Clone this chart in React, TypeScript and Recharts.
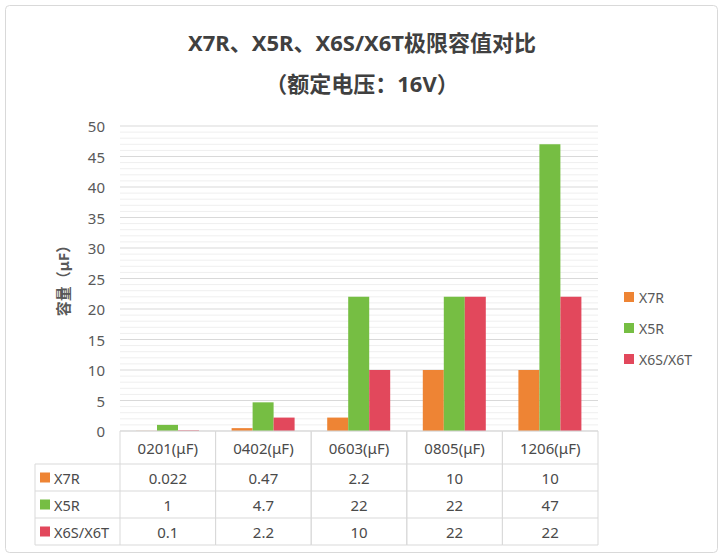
import React from 'react';
import { BarChart, Bar, XAxis, YAxis, CartesianGrid } from 'recharts';

const categories = ['0201(μF)', '0402(μF)', '0603(μF)', '0805(μF)', '1206(μF)'];
const seriesNames = ['X7R', 'X5R', 'X6S/X6T'];
const x7r = [0.022, 0.47, 2.2, 10, 10];
const x5r = [1, 4.7, 22, 22, 47];
const x6s = [0.1, 2.2, 10, 22, 22];
const gridValues = [
  0, 1, 2, 3, 4, 5, 6, 7, 8, 9, 10, 11, 12, 13, 14, 15, 16, 17, 18, 19, 20, 21, 22, 23, 24, 25,
  26, 27, 28, 29, 30, 31, 32, 33, 34, 35, 36, 37, 38, 39, 40, 41, 42, 43, 44, 45, 46, 47, 48, 49, 50,
];

const seriesValues = [x7r, x5r, x6s];
const colors = ['#EE8434', '#76BE43', '#E2485C'];

const data = categories.map((c, i) => ({ name: c, x7r: x7r[i], x5r: x5r[i], x6s: x6s[i] }));

const FONT = '"Noto Sans", "Noto Sans CJK SC", sans-serif';
const BORDER = '#d9d9d9';
const TEXT = '#4a4a4a';

const W = 724;
const H = 559;
const PLOT_LEFT = 120;
const PLOT_RIGHT = 598;
const PLOT_TOP = 126;
const PLOT_BOTTOM = 431;
const COL_W = (PLOT_RIGHT - PLOT_LEFT) / categories.length;
const HEADER_H = 33;
const ROW_H = 27;

const TableColumn = (props: any) => {
  const { x, payload, index } = props;
  const y = PLOT_BOTTOM;
  const i = payload && payload.index !== undefined ? payload.index : index;
  const left = x - COL_W / 2;
  const right = x + COL_W / 2;
  const bottom = y + HEADER_H + ROW_H * 3;
  return (
    <g>
      <line x1={left} y1={y} x2={right} y2={y} stroke={BORDER} />
      <line x1={left} y1={y} x2={left} y2={bottom} stroke={BORDER} />
      <line x1={right} y1={y} x2={right} y2={bottom} stroke={BORDER} />
      {[0, 1, 2, 3].map((r) => (
        <line
          key={r}
          x1={left}
          x2={right}
          y1={y + HEADER_H + ROW_H * r}
          y2={y + HEADER_H + ROW_H * r}
          stroke={BORDER}
        />
      ))}
      <text x={x} y={y + HEADER_H / 2 + 0.5} textAnchor="middle" dominantBaseline="central" fill={TEXT} fontSize={15} fontFamily={FONT}>
        {payload.value}
      </text>
      {seriesValues.map((vals, r) => (
        <text
          key={r}
          x={x}
          y={y + HEADER_H + ROW_H * r + ROW_H / 2}
          textAnchor="middle"
          dominantBaseline="central"
          fill={TEXT}
          fontSize={15}
          fontFamily={FONT}
        >
          {String(vals[i])}
        </text>
      ))}
    </g>
  );
};

const GridLine = (props: any) => {
  const { x1, x2, y1, y2, index } = props;
  const major = index % 5 === 0;
  return <line x1={x1} x2={x2} y1={y1} y2={y2} stroke={major ? '#d9d9d9' : '#efefef'} strokeWidth={1} />;
};

const YTick = (props: any) => {
  const { x, y, payload } = props;
  if (payload.value % 5 !== 0) return null;
  return (
    <text x={x} y={y} textAnchor="end" dominantBaseline="central" fill="#595959" fontSize={15} fontFamily={FONT}>
      {payload.value}
    </text>
  );
};

export default function App() {
  return (
    <div style={{ position: 'absolute', left: 0, top: 0, width: W, height: H, background: '#fff', fontFamily: FONT }}>
      <svg width={W} height={H} style={{ position: 'absolute', left: 0, top: 0 }}>
        <rect x={5.5} y={5.5} width={712} height={547} rx={4} fill="#fff" stroke={BORDER} />
        <text x={362} y={42} textAnchor="middle" dominantBaseline="central" fontSize={22} fontWeight="bold" fill="#404040" fontFamily={FONT}>
          X7R、X5R、X6S/X6T极限容值对比
        </text>
        <text x={362} y={83} textAnchor="middle" dominantBaseline="central" fontSize={22} fontWeight="bold" fill="#404040" fontFamily={FONT}>
          （额定电压：16V）
        </text>
        <text
          x={63}
          y={277}
          transform="rotate(-90 63 277)"
          textAnchor="middle"
          dominantBaseline="central"
          fontSize={15}
          fontWeight="bold"
          fill="#595959"
          fontFamily={FONT}
        >
          容量（μF）
        </text>
        {seriesNames.map((n, r) => {
          const top = PLOT_BOTTOM + HEADER_H + ROW_H * r;
          return (
            <g key={n}>
              <line x1={35} x2={PLOT_LEFT} y1={top} y2={top} stroke={BORDER} />
              <rect x={40} y={top + ROW_H / 2 - 5} width={10} height={10} fill={colors[r]} />
              <text x={54} y={top + ROW_H / 2} dominantBaseline="central" fontSize={14.5} fill={TEXT} fontFamily={FONT}>
                {n}
              </text>
            </g>
          );
        })}
        <line x1={35} x2={PLOT_LEFT} y1={PLOT_BOTTOM + HEADER_H + ROW_H * 3} y2={PLOT_BOTTOM + HEADER_H + ROW_H * 3} stroke={BORDER} />
        <line x1={35} x2={35} y1={PLOT_BOTTOM + HEADER_H} y2={PLOT_BOTTOM + HEADER_H + ROW_H * 3} stroke={BORDER} />
        {seriesNames.map((n, r) => (
          <g key={n}>
            <rect x={624} y={292 + r * 31} width={10} height={10} fill={colors[r]} />
            <text x={639} y={297 + r * 31} dominantBaseline="central" fontSize={14} fill="#595959" fontFamily={FONT}>
              {n}
            </text>
          </g>
        ))}
      </svg>
      <div style={{ position: 'absolute', left: 0, top: 0 }}>
        <BarChart
          width={W}
          height={H}
          data={data}
          margin={{ top: PLOT_TOP, right: W - PLOT_RIGHT, bottom: 0, left: 0 }}
          barGap={0}
          barSize={21}
        >
          <CartesianGrid vertical={false} horizontal={<GridLine />} />
          <YAxis
            width={PLOT_LEFT}
            domain={[0, 50]}
            ticks={gridValues}
            interval={0}
            axisLine={false}
            tickLine={false}
            tickSize={0}
            tickMargin={15}
            tick={<YTick />}
          />
          <XAxis
            dataKey="name"
            height={H - PLOT_BOTTOM}
            axisLine={false}
            tickLine={false}
            tickSize={0}
            interval={0}
            tick={<TableColumn />}
          />
          <Bar dataKey="x7r" name="X7R" fill={colors[0]} isAnimationActive={false} />
          <Bar dataKey="x5r" name="X5R" fill={colors[1]} isAnimationActive={false} />
          <Bar dataKey="x6s" name="X6S/X6T" fill={colors[2]} isAnimationActive={false} />
        </BarChart>
      </div>
    </div>
  );
}
